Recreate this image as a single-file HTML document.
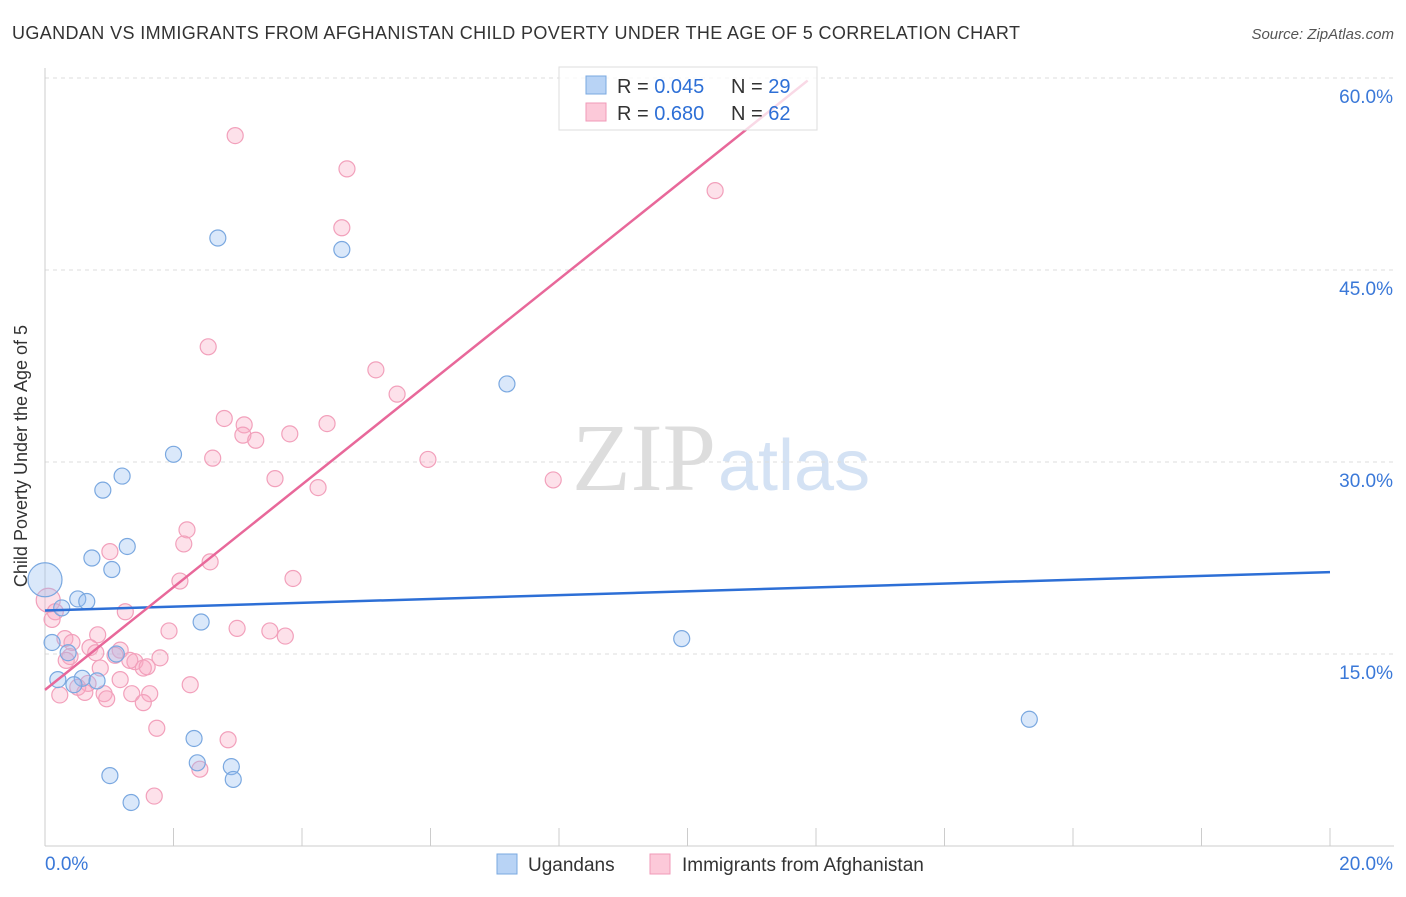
<!DOCTYPE html>
<html><head><meta charset="utf-8"><style>
body{margin:0;background:#fff;font-family:"Liberation Sans",sans-serif}
</style></head><body>
<svg width="1406" height="892" xmlns="http://www.w3.org/2000/svg">
<text x="12" y="39" font-size="18" fill="#333" textLength="1008" lengthAdjust="spacing">UGANDAN VS IMMIGRANTS FROM AFGHANISTAN CHILD POVERTY UNDER THE AGE OF 5 CORRELATION CHART</text>
<text x="1394" y="39" font-size="15" fill="#555" font-style="italic" text-anchor="end">Source: ZipAtlas.com</text>
<text x="716" y="490" font-size="96" font-family="Liberation Serif,serif" fill="#ddd" text-anchor="end">ZIP</text>
<text x="718" y="490" font-size="72" fill="#d4e2f4">atlas</text>
<g id="grid"></g>
<line x1="45" y1="68" x2="45" y2="846" stroke="#ccc"/>
<line x1="45" y1="846" x2="1394" y2="846" stroke="#ccc"/>
<text x="27" y="456" font-size="18" fill="#333" text-anchor="middle" transform="rotate(-90 27 456)">Child Poverty Under the Age of 5</text>
<g id="pts"></g>
<g id="lines"></g>
<g>
<rect x="559" y="67" width="258" height="63" fill="rgba(255,255,255,0.75)" stroke="#ddd"/>
<rect x="586" y="76" width="20" height="18" fill="#b8d3f5" stroke="#7aa8e0"/>
<rect x="586" y="103" width="20" height="18" fill="#fcc9d9" stroke="#f09ab8"/>
<text x="617" y="93" font-size="20" fill="#333">R = <tspan fill="#2d6fd6">0.045</tspan></text>
<text x="731" y="93" font-size="20" fill="#333">N = <tspan fill="#2d6fd6">29</tspan></text>
<text x="617" y="120" font-size="20" fill="#333">R = <tspan fill="#2d6fd6">0.680</tspan></text>
<text x="731" y="120" font-size="20" fill="#333">N = <tspan fill="#2d6fd6">62</tspan></text>
</g>
<g>
<rect x="497" y="854" width="20" height="20" fill="#b8d3f5" stroke="#7aa8e0"/>
<text x="528" y="871" font-size="19" fill="#333">Ugandans</text>
<rect x="650" y="854" width="20" height="20" fill="#fcc9d9" stroke="#f09ab8"/>
<text x="682" y="871" font-size="19" fill="#333">Immigrants from Afghanistan</text>
</g>
</svg>
<script>
const yTicks=[15,30,45,60];
const yTickLabels=["15.0%","30.0%","45.0%","60.0%"];
const xTicks=[0,2,4,6,8,10,12,14,16,18,20];
const ugX=[2.69,4.62,7.19,2.0,1.2,0.9,1.28,0.73,1.04,0,0.51,0.65,0.26,0.11,2.43,0.36,1.11,0.58,0.81,0.2,0.45,9.91,15.32,2.32,1.01,2.37,2.9,2.93,1.34];
const ugY=[47.5,46.6,36.1,30.6,28.9,27.8,23.4,22.5,21.6,20.8,19.3,19.1,18.6,15.9,17.5,15.1,15.0,13.1,12.9,13.0,12.6,16.2,9.9,8.4,5.5,6.5,6.2,5.2,3.4];
const afX=[2.96,4.7,10.43,4.62,2.54,5.15,5.48,2.79,3.1,3.08,3.28,3.81,4.39,5.96,2.61,3.58,4.25,7.91,2.21,2.16,1.01,2.57,2.1,3.86,0.05,0.16,0.11,1.25,1.93,2.99,3.5,3.74,0.82,0.31,0.42,0.7,0.79,1.17,0.39,1.09,1.4,1.53,1.79,1.59,1.32,0.33,0.86,1.17,2.26,0.67,0.51,0.62,0.92,1.35,1.63,1.53,0.23,0.96,1.74,2.85,2.41,1.7];
const afY=[55.5,52.9,51.2,48.3,39.0,37.2,35.3,33.4,32.9,32.1,31.7,32.2,33.0,30.2,30.3,28.7,28.0,28.6,24.7,23.6,23.0,22.2,20.7,20.9,19.2,18.3,17.7,18.3,16.8,17.0,16.8,16.4,16.5,16.2,15.9,15.5,15.1,15.3,14.8,14.9,14.4,13.9,14.7,14.0,14.5,14.5,13.9,13.0,12.6,12.7,12.4,12.0,11.9,11.9,11.9,11.2,11.8,11.5,9.2,8.3,6.0,3.9];
const X=v=>45+v*64.25, Y=v=>846-v*12.8;
const NS="http://www.w3.org/2000/svg";
const mk=(t,a,p)=>{const e=document.createElementNS(NS,t);for(const k in a)e.setAttribute(k,a[k]);p.appendChild(e);return e;};
const g=document.getElementById('grid');
yTicks.forEach((v,i)=>{
 const l=mk('line',{x1:45,x2:1394,y1:Y(v),y2:Y(v),stroke:'#ddd','stroke-dasharray':'4,4'},g);
 
 
 const t=mk('text',{x:1393,y:Y(v)+25,'font-size':19,fill:'#3a78d8','text-anchor':'end'},g);t.textContent=yTickLabels[i];
 
 
});
xTicks.forEach(v=>{if(v>0){const l=mk('line',{x1:X(v),x2:X(v),y1:828,y2:846,stroke:'#ccc'},g);
 
 }});
[["0.0%",45,'start'],["20.0%",1393,'end']].forEach(a=>{const t=mk('text',{x:a[1],y:870,'font-size':19,fill:'#3a78d8','text-anchor':a[2]},g);t.textContent=a[0];
 
 });
const p=document.getElementById('pts');
afX.forEach((x,i)=>{const c=mk('circle',{cx:X(x),cy:Y(afY[i]),r:i==24?12:8,fill:'rgba(248,170,195,0.35)',stroke:'#f2a0bb','stroke-width':1.2},p);
 
 });
ugX.forEach((x,i)=>{const c=mk('circle',{cx:X(x),cy:Y(ugY[i]),r:i==9?17:8,fill:'rgba(150,190,240,0.35)',stroke:'#7aa8e0','stroke-width':1.2},p);
 
 });
const L=document.getElementById('lines');
let a=mk('line',{x1:X(0),y1:Y(18.4),x2:X(20),y2:Y(21.4),stroke:'#2d6fd6','stroke-width':2.5},L);


let b=mk('line',{x1:X(0),y1:Y(12.2),x2:X(11.87),y2:Y(59.8),stroke:'#e8689a','stroke-width':2.5},L);


</script>
</body></html>
